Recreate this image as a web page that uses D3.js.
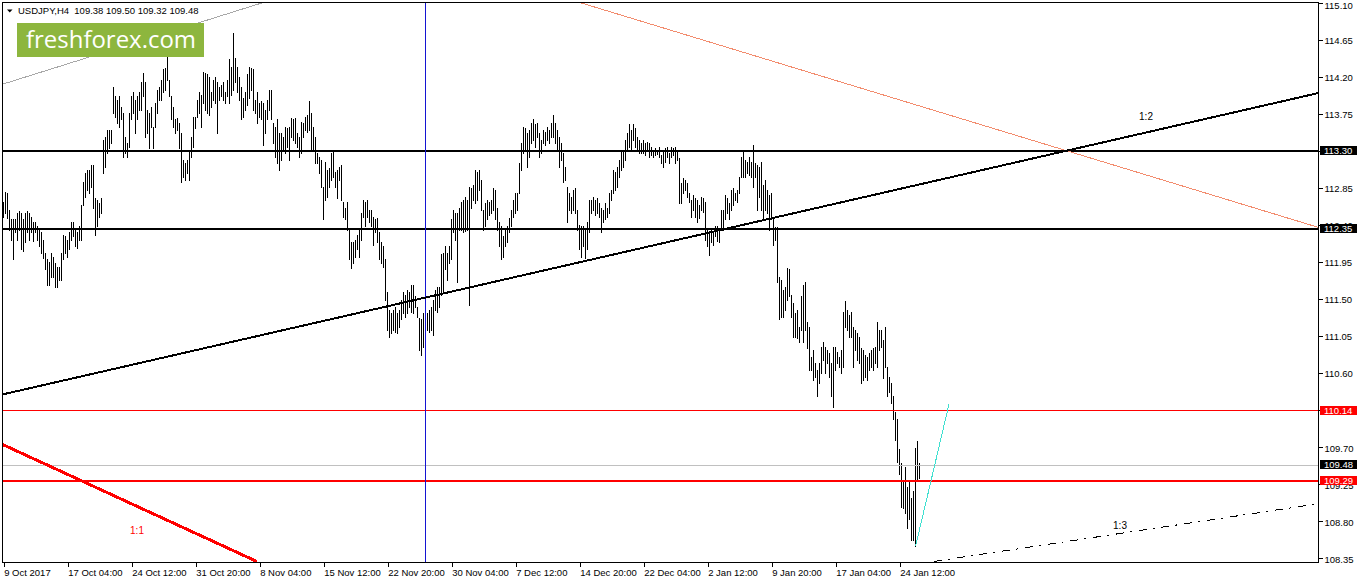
<!DOCTYPE html>
<html lang="en">
<head>
<meta charset="UTF-8" />
<script src="https://d3js.org/d3.v7.min.js"></script>
<title>USDJPY,H4</title>
<style>
  body { margin: 0; background: #fff; }
  svg text { font-family: "Liberation Sans", Arial, sans-serif; }
</style>
</head>
<body>
<script type="text/javascript">
// H4 bars, 9 Oct 2017 .. 26 Jan 2018 (one value per bar)
var highs = [
  112.68,112.80,112.79,112.58,112.47,112.47,112.47,112.54,112.57,112.54,
  112.47,112.54,112.57,112.54,112.49,112.43,112.44,112.38,112.34,112.31,
  112.22,112.06,111.98,111.95,112.06,112.01,111.94,111.89,111.89,112.06,
  112.28,112.26,112.22,112.31,112.44,112.43,112.34,112.31,112.38,112.64,
  112.92,113.03,113.07,113.07,113.13,113.13,112.72,112.70,112.66,112.72,
  113.43,113.47,113.55,113.55,113.55,114.08,113.96,113.92,113.96,113.83,
  113.76,113.47,113.40,113.76,113.96,114.01,113.92,113.96,114.01,114.13,
  114.25,114.13,113.80,113.76,113.83,113.59,113.88,114.04,114.08,114.16,
  114.29,114.31,114.44,114.16,113.96,113.83,113.68,113.70,113.64,113.52,
  113.19,113.15,113.19,113.31,113.47,113.71,113.71,113.92,114.01,113.98,
  114.26,114.25,114.23,114.19,114.01,114.16,114.19,114.13,114.08,114.10,
  114.13,114.01,114.16,114.41,114.32,114.73,114.43,114.32,114.19,114.08,
  113.94,114.01,114.23,114.32,114.31,114.29,113.92,114.01,113.88,113.90,
  113.88,113.80,113.92,114.04,114.04,113.64,113.59,113.68,113.52,113.52,
  113.47,113.59,113.58,113.59,113.70,113.68,113.70,113.52,113.47,113.65,
  113.64,113.71,113.74,113.90,113.76,113.59,113.47,113.27,113.22,113.19,
  112.86,113.16,113.07,113.09,113.27,113.29,113.04,113.07,113.10,113.13,
  112.68,112.61,112.68,112.34,112.19,112.19,112.22,112.28,112.34,112.54,
  112.70,112.68,112.70,112.58,112.58,112.49,112.47,112.48,112.31,112.19,
  112.14,111.98,111.58,111.37,111.33,111.37,111.40,111.33,111.37,111.49,
  111.58,111.55,111.61,111.58,111.67,111.67,111.53,111.40,111.27,111.25,
  111.33,111.37,111.33,111.37,111.40,111.49,111.61,111.65,111.65,112.04,
  112.06,112.14,112.06,112.14,112.47,112.58,112.54,112.54,112.61,112.68,
  112.70,112.74,112.70,112.86,112.85,112.88,113.07,113.04,113.07,112.94,
  112.58,112.66,112.70,112.68,112.70,112.85,112.82,112.61,112.43,112.38,
  112.26,112.34,112.38,112.48,112.58,112.70,112.79,112.79,113.15,113.40,
  113.59,113.58,113.52,113.55,113.64,113.68,113.62,113.64,113.52,113.43,
  113.55,113.53,113.59,113.55,113.64,113.74,113.64,113.55,113.47,113.40,
  113.27,113.10,112.86,112.79,112.74,112.82,112.85,112.58,112.40,112.38,
  112.38,112.34,112.43,112.70,112.70,112.74,112.70,112.72,112.66,112.61,
  112.58,112.66,112.61,112.79,112.82,113.07,113.04,113.10,113.19,113.31,
  113.31,113.43,113.52,113.62,113.55,113.62,113.58,113.47,113.43,113.40,
  113.43,113.40,113.41,113.40,113.35,113.31,113.33,113.31,113.35,113.25,
  113.31,113.33,113.35,113.27,113.35,113.33,113.35,113.31,113.21,112.91,
  112.97,112.94,112.91,112.79,112.70,112.76,112.72,112.70,112.64,112.74,
  112.72,112.68,112.34,112.31,112.34,112.32,112.38,112.38,112.34,112.58,
  112.58,112.76,112.72,112.66,112.82,112.85,112.79,112.82,112.98,113.22,
  113.29,113.19,113.16,113.22,113.16,113.37,113.15,113.13,113.10,113.16,
  112.88,112.94,112.82,112.76,112.79,112.49,112.37,112.37,111.77,111.73,
  111.61,111.65,111.88,111.86,111.55,111.45,111.33,111.37,111.16,111.53,
  111.67,111.70,111.22,111.16,110.79,110.88,110.72,110.64,110.72,110.92,
  110.97,110.92,110.88,110.84,110.72,110.92,110.92,110.86,110.79,110.88,
  111.34,111.47,111.37,111.31,111.34,111.16,111.12,111.09,111.04,110.90,
  110.88,110.82,110.79,110.84,110.88,110.90,110.92,111.22,111.12,111.12,
  111.00,111.16,110.67,110.55,110.48,110.32,110.12,110.04,109.67,109.51,
  109.27,109.46,109.22,109.30,109.08,109.16,109.69,109.77,109.50
];
var lows = [
  112.49,112.54,112.48,112.34,112.22,111.98,112.31,112.22,112.34,112.10,
  112.08,112.19,112.31,112.22,112.31,112.20,112.31,112.22,112.14,112.06,
  112.00,111.86,111.67,111.67,111.77,111.77,111.65,111.64,111.73,111.73,
  111.98,112.06,112.01,112.10,112.22,112.26,112.14,112.12,112.22,112.22,
  112.64,112.74,112.82,112.79,112.86,112.61,112.28,112.38,112.49,112.54,
  113.03,113.10,113.27,113.33,113.40,113.76,113.71,113.64,113.59,113.68,
  113.22,113.27,113.22,113.35,113.68,113.76,113.52,113.68,113.80,113.80,
  113.96,113.47,113.52,113.33,113.59,113.33,113.59,113.76,113.92,113.92,
  114.01,114.04,114.16,113.96,113.68,113.59,113.52,113.55,113.33,112.92,
  112.98,112.94,113.03,112.94,113.22,113.35,113.58,113.71,113.76,113.59,
  113.88,113.80,113.76,113.74,113.83,113.92,113.88,113.52,113.92,113.96,
  113.92,113.88,113.96,113.88,113.98,114.04,114.13,114.01,113.92,113.68,
  113.71,113.80,113.86,113.94,114.04,113.80,113.76,113.64,113.71,113.68,
  113.37,113.52,113.68,113.80,113.68,113.40,113.22,113.15,113.07,113.19,
  113.31,113.27,113.35,113.19,113.47,113.43,113.40,113.35,113.22,113.27,
  113.47,113.55,113.53,113.55,113.31,113.31,113.15,113.15,113.03,112.86,
  112.47,112.70,112.74,112.86,112.94,112.98,112.86,112.72,112.94,112.70,
  112.49,112.47,112.34,111.98,111.88,111.94,112.01,112.10,112.01,112.22,
  112.49,112.38,112.49,112.43,112.38,112.16,112.31,112.19,111.98,111.94,
  111.89,111.49,111.12,111.04,111.09,111.12,111.10,111.09,111.16,111.25,
  111.33,111.28,111.33,111.40,111.34,111.33,111.40,111.28,110.88,110.82,
  110.92,111.06,111.12,111.10,111.12,111.06,111.37,111.34,111.40,111.55,
  111.58,111.86,111.73,111.94,111.98,112.31,112.22,111.71,112.34,112.34,
  112.31,112.32,112.34,111.43,112.61,112.70,112.66,112.70,112.82,112.58,
  112.34,112.38,112.47,112.52,112.54,112.58,112.47,112.34,112.14,111.98,
  112.01,112.14,112.19,112.31,112.38,112.49,112.54,112.58,112.79,113.07,
  113.27,113.31,113.10,113.22,113.40,113.43,113.35,113.47,113.22,113.27,
  113.40,113.37,113.43,113.40,113.47,113.47,113.40,113.31,113.10,113.19,
  112.92,112.94,112.44,112.58,112.54,112.58,112.54,112.34,112.10,112.01,
  112.14,112.00,112.10,112.31,112.54,112.58,112.52,112.54,112.49,112.31,
  112.43,112.47,112.49,112.54,112.70,112.79,112.82,112.86,112.98,113.07,
  113.10,113.19,113.31,113.35,113.31,113.43,113.35,113.31,113.27,113.27,
  113.27,113.25,113.31,113.22,113.25,113.22,113.25,113.26,113.22,113.15,
  113.10,113.16,113.22,113.15,113.22,113.25,113.15,113.19,112.66,112.66,
  112.79,112.82,112.74,112.68,112.49,112.58,112.49,112.44,112.48,112.58,
  112.55,112.22,112.14,112.03,112.19,112.16,112.26,112.20,112.19,112.34,
  112.34,112.47,112.54,112.47,112.58,112.64,112.70,112.68,112.79,112.98,
  112.98,112.98,113.03,113.01,112.98,112.86,112.98,112.58,112.74,112.58,
  112.47,112.58,112.54,112.34,112.47,112.16,112.22,111.70,111.25,111.28,
  111.28,111.37,111.49,111.53,111.28,111.04,111.04,111.03,110.97,111.12,
  110.97,111.12,110.90,110.64,110.64,110.51,110.55,110.32,110.48,110.60,
  110.76,110.60,110.72,110.55,110.32,110.19,110.64,110.72,110.67,110.60,
  110.67,111.16,111.12,111.04,111.04,110.67,110.88,110.76,110.72,110.48,
  110.51,110.55,110.51,110.64,110.67,110.64,110.72,110.67,110.88,110.92,
  110.54,110.67,110.32,110.37,110.24,110.04,109.78,109.52,109.37,108.97,
  108.96,108.90,108.72,108.82,108.57,108.57,108.50,109.30,109.32
];
var lastOpen = 109.38;
var lastClose = 109.48;

var dateBars = [0, 32, 64, 96, 128, 160, 192, 224, 256, 288, 320, 352, 384, 416, 448];
var dateLabels = ["9 Oct 2017", "17 Oct 04:00", "24 Oct 12:00", "31 Oct 20:00", "8 Nov 04:00",
  "15 Nov 12:00", "22 Nov 20:00", "30 Nov 04:00", "7 Dec 12:00", "14 Dec 20:00",
  "22 Dec 04:00", "2 Jan 12:00", "9 Jan 20:00", "17 Jan 04:00", "24 Jan 12:00"];
var priceTicks = [108.35, 108.80, 109.25, 109.70, 110.15, 110.60, 111.05, 111.50,
  111.95, 112.40, 112.85, 113.30, 113.75, 114.20, 114.65, 115.10];

// drawn objects: [bar, price] anchors
var channelLine = [[-0.35, 114.11], [129.65, 115.10]];
var fallLine = [[288.15, 115.10], [657.15, 112.37]];
var line12 = [[-0.35, 110.34], [657.15, 114.00]];
var line11 = [[-0.5, 109.73], [126.5, 108.31]];
var line13 = [[465.15, 108.31], [657.15, 109.01]];
var swingLine = [[456, 108.50], [472.65, 110.22]];
var blackLevels = [113.30, 112.35];
var redThinLevel = 110.14;
var redLevel = 109.29;
var markerBar = 211;
var fanLabels = [["1:1", 66.65, 108.68], ["1:2", 571.15, 113.72], ["1:3", 558.15, 108.75]];

var width = 1358, height = 584;
var svg = d3.select("body").append("svg")
  .attr("width", width).attr("height", height).style("display", "block");
svg.append("rect").attr("width", width).attr("height", height).attr("fill", "#fff");

var x = d3.scaleLinear().domain([0, 657]).range([3.7, 1317.7]);
var y = d3.scaleLinear().domain([108.35, 115.10]).range([558.1, 2.6]);

svg.append("clipPath").attr("id", "plotclip")
  .append("rect").attr("x", 3).attr("y", 3).attr("width", 1315).attr("height", 559);
var plot = svg.append("g").attr("clip-path", "url(#plotclip)");

// bars
plot.append("g").attr("shape-rendering", "crispEdges")
  .selectAll("line").data(highs).join("line")
  .attr("x1", function(d, i) { return Math.floor(x(i)) + 0.5; })
  .attr("x2", function(d, i) { return Math.floor(x(i)) + 0.5; })
  .attr("y1", function(d) { return Math.round(y(d)); })
  .attr("y2", function(d, i) { return Math.round(y(lows[i])) + 1; })
  .attr("stroke", "#000").attr("stroke-width", 1);

function hline(p, color, w) {
  var yy = (w % 2) ? Math.floor(y(p)) + 0.5 : Math.round(y(p));
  plot.append("line").attr("x1", 3).attr("x2", 1318).attr("y1", yy).attr("y2", yy)
    .attr("stroke", color).attr("stroke-width", w).attr("shape-rendering", "crispEdges");
}
hline(lastClose, "#c0c0c0", 1);
blackLevels.forEach(function(p) { hline(p, "#000", 2); });
hline(redThinLevel, "#ff0000", 1);
hline(redLevel, "#ff0000", 2);

var mx = Math.floor(x(markerBar)) + 0.5;
plot.append("line").attr("x1", mx).attr("x2", mx).attr("y1", 3).attr("y2", 562)
  .attr("stroke", "#1414d2").attr("stroke-width", 1).attr("shape-rendering", "crispEdges");

var lineGen = d3.line().x(function(d) { return x(d[0]); }).y(function(d) { return y(d[1]); });
function trend(pts, color, w, dash) {
  var p = plot.append("path").datum(pts).attr("d", lineGen).attr("fill", "none")
    .attr("stroke", color).attr("stroke-width", w).attr("shape-rendering", "crispEdges");
  if (dash) p.attr("stroke-dasharray", dash);
}
trend(channelLine, "#a8a8a8", 1);
trend(fallLine, "#f28c6e", 1);
trend(line12, "#000", 2);
trend(line11, "#ff0000", 3);
trend(line13, "#000", 1, "8,6,2,7");
trend(swingLine, "#40e0d0", 1);

plot.selectAll("text.fan").data(fanLabels).join("text").attr("class", "fan")
  .attr("x", function(d) { return x(d[1]); }).attr("y", function(d) { return y(d[2]); })
  .attr("dy", "0.35em").attr("text-anchor", "middle").attr("font-size", 10)
  .attr("fill", function(d, i) { return i === 0 ? "#ff0000" : "#000"; })
  .text(function(d) { return d[0]; });

// frame
svg.append("rect").attr("x", 2.5).attr("y", 2.5).attr("width", 1316).attr("height", 560)
  .attr("fill", "none").attr("stroke", "#000").attr("shape-rendering", "crispEdges");

// price axis
var yAxis = d3.axisRight(y).tickValues(priceTicks).tickSize(4).tickSizeOuter(0)
  .tickPadding(2).tickFormat(d3.format(".2f"));
var gy = svg.append("g").attr("transform", "translate(1318.5,0)").call(yAxis);
gy.select(".domain").remove();
gy.attr("font-family", '"Liberation Sans", Arial, sans-serif').attr("font-size", 9.5);
gy.selectAll("line").attr("shape-rendering", "crispEdges");
gy.selectAll("text").attr("fill", "#000")
  .attr("y", function(d, i) { return i === priceTicks.length - 1 ? 3 : 1; });

// time axis
var xAxis = d3.axisBottom(x).tickValues(dateBars).tickSize(4).tickSizeOuter(0)
  .tickPadding(3).tickFormat(function(d, i) { return dateLabels[i]; });
var gx = svg.append("g").attr("transform", "translate(0,562.5)").call(xAxis);
gx.select(".domain").remove();
gx.attr("font-family", '"Liberation Sans", Arial, sans-serif').attr("font-size", 9.5);
gx.selectAll("line").attr("shape-rendering", "crispEdges");
gx.selectAll("text").attr("fill", "#000").attr("text-anchor", "start").attr("x", 0);

// price tags
function tag(p, fill) {
  var yy = Math.round(y(p));
  svg.append("rect").attr("x", 1320).attr("y", yy - 5).attr("width", 37).attr("height", 9)
    .attr("fill", fill).attr("shape-rendering", "crispEdges");
  svg.append("text").attr("x", 1324).attr("y", yy).attr("dy", "0.35em")
    .attr("font-size", 9.5).attr("fill", "#fff").text(d3.format(".2f")(p));
}
blackLevels.forEach(function(p) { tag(p, "#000"); });
tag(redThinLevel, "#ff0000");
tag(lastClose, "#000");
tag(redLevel, "#ff0000");

// header
svg.append("path").attr("d", "M7,9.5L12.5,9.5L9.75,12.5Z").attr("fill", "#000");
var last = highs.length - 1;
svg.append("text").attr("x", 18).attr("y", 14.3).attr("font-size", 9.5).attr("fill", "#000")
  .style("white-space", "pre")
  .text("USDJPY,H4  " + [lastOpen, highs[last], lows[last], lastClose].map(d3.format(".2f")).join(" "));

// logo
svg.append("rect").attr("x", 17).attr("y", 23).attr("width", 187).attr("height", 34).attr("fill", "#8db63e");
svg.append("text").attr("x", 26).attr("y", 48.3).attr("font-size", 24)
  .style("font-family", '"Open Sans", sans-serif').attr("fill", "#fff")
  .attr("textLength", 170).attr("lengthAdjust", "spacingAndGlyphs").text("freshforex.com");
</script>
</body>
</html>
